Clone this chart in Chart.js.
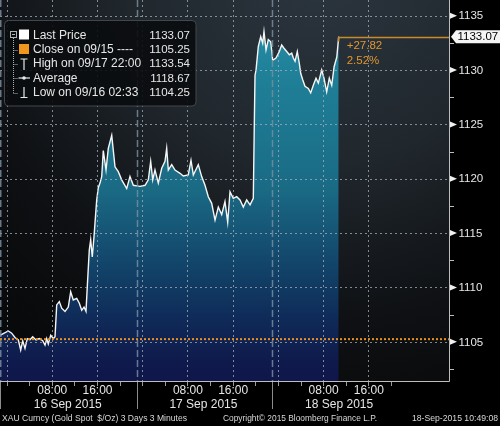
<!DOCTYPE html>
<html><head><meta charset="utf-8">
<script src="https://cdn.jsdelivr.net/npm/chart.js@4.4.0/dist/chart.umd.min.js"></script>
<style>html,body{margin:0;padding:0;background:#000;}canvas{display:block;}</style>
</head><body>
<canvas id="c" width="500" height="426"></canvas>
<script>
// hours since 16 Sep 2015 00:00
const hours = [-1.15,0.32,0.92,1.50,2.09,2.51,2.87,3.27,3.68,4.16,4.63,5.22,5.80,6.40,6.81,7.11,7.39,7.82,8.28,8.58,
8.88,9.34,9.76,10.35,10.93,11.35,11.81,12.42,12.88,13.30,13.71,14.06,14.29,14.64,14.89,15.17,15.48,15.95,16.24,16.54,
16.84,17.12,17.60,18.00,18.61,19.19,19.77,20.37,21.26,21.84,22.43,23.61,24.50,25.08,25.50,25.86,26.26,26.85,27.45,28.03,
28.33,28.62,29.22,29.80,30.69,31.27,32.15,32.63,33.04,33.92,34.52,35.11,35.69,36.29,36.88,37.46,38.06,38.64,39.12,39.53,
40.11,40.71,41.30,41.88,42.48,43.07,43.65,43.80,43.95,44.13,44.53,44.96,45.31,45.54,45.90,46.30,46.73,47.08,47.66,48.25,
48.67,49.08,49.56,50.02,50.44,50.73,51.03,51.43,51.79,52.03,52.39,52.79,53.38,53.80,54.26,54.74,55.15,55.75,56.15,56.63,
57.09,57.52,57.94,58.42,58.75];
const prices = [1105.6,1106.0,1105.8,1105.4,1105.17,1104.25,1105.1,1104.4,1105.3,1105.2,1105.47,1105.17,1105.3,1105.1,1104.7,1105.3,1104.8,1105.6,1105.3,1105.47,
1108.4,1108.7,1108.1,1107.8,1108.2,1109.6,1108.85,1109.0,1108.55,1107.9,1108.2,1107.8,1110.1,1113.45,1114.4,1112.8,1114.7,1118.05,1119.2,1119.6,
1120.2,1122.6,1120.8,1122.8,1124.0,1121.1,1120.65,1119.9,1119.1,1120.2,1119.4,1119.3,1119.4,1119.9,1121.6,1119.9,1120.8,1119.6,1120.96,1121.6,
1122.8,1120.8,1121.3,1120.8,1120.5,1120.25,1120.35,1121.7,1120.35,1121.3,1120.2,1119.4,1118.35,1117.74,1116.2,1117.4,1116.7,1117.9,1116.0,1118.8,
1118.2,1118.35,1118.05,1117.4,1118.05,1117.6,1118.2,1124.0,1129.5,1130.0,1132.15,1133.07,1132.46,1133.54,1131.85,1132.8,1132.6,1130.9,1131.1,1131.7,
1132.3,1132.0,1131.7,1131.4,1131.55,1131.1,1130.8,1131.7,1130.6,1129.7,1129.1,1128.5,1128.3,1127.9,1128.6,1129.25,1128.8,1130.0,1129.25,1128.0,
1129.25,1128.6,1130.3,1131.2,1133.07];

const yTicks = [1105,1110,1115,1120,1125,1130,1135];
const yMinorTicks = [1102.5,1107.5,1112.5,1117.5,1122.5,1127.5,1132.5];
const gridHours = [0,8,16,24,32,40,48,56,64];
const smallTickHours = [0,4,8,12,16,20,24,28,32,36,40,44,48,52,56,60,64,68];
const timeTickHours = [8,16,32,40,56,64];
const timeTickLabels = ['08:00','16:00','08:00','16:00','08:00','16:00'];
const dayLabelHours = [8,32,56];
const dayLabels = ['16 Sep 2015','17 Sep 2015','18 Sep 2015'];
const dayBreakHours = [-1.1,23,47];
const closePrice = 1105.25;
const lastPrice = 1133.07;
const changeText = ['+27.82','2.52%'];
const legendLabels = ['Last Price','Close on 09/15 ----','High on 09/17 22:00','Average','Low on 09/16 02:33'];
const legendValues = ['1133.07','1105.25','1133.54','1118.67','1104.25'];
const footerTexts = ['XAU Curncy (Gold Spot  $/Oz) 3 Days 3 Minutes','Copyright\u00A9 2015 Bloomberg Finance L.P.','18-Sep-2015 10:49:08'];

const FONT = '"Liberation Sans", Arial, sans-serif';

const bgPlugin = {
  id:'bg',
  beforeDraw(chart){
    const {ctx} = chart; const a = chart.chartArea;
    ctx.save();
    ctx.fillStyle = '#000'; ctx.fillRect(0,0,chart.width,chart.height);
    const g = ctx.createRadialGradient(320,-30,10,320,-30,470);
    g.addColorStop(0,'#2b353e'); g.addColorStop(0.4,'#20272d'); g.addColorStop(0.75,'#0e1013'); g.addColorStop(1,'#08090a');
    ctx.fillStyle = g; ctx.fillRect(a.left,a.top,a.right-a.left,a.bottom-a.top);
    ctx.restore();
  }
};

const overlayPlugin = {
  id:'overlay',
  afterDatasetsDraw(chart){
    const {ctx} = chart; const a = chart.chartArea;
    const xs = chart.scales.x, ys = chart.scales.y;
    const px = v => xs.getPixelForValue(v), py = v => ys.getPixelForValue(v);
    ctx.save();
    // horizontal grid
    ctx.lineWidth = 1; ctx.strokeStyle = 'rgba(165,175,185,0.75)'; ctx.setLineDash([2,3]);
    yTicks.forEach(v=>{ const y=Math.round(py(v))+0.5; ctx.beginPath(); ctx.moveTo(a.left,y); ctx.lineTo(a.right,y); ctx.stroke(); });
    // vertical grid
    gridHours.forEach(h=>{ const x=Math.round(px(h))+0.5; ctx.beginPath(); ctx.moveTo(x,a.top); ctx.lineTo(x,a.bottom); ctx.stroke(); });
    // day separators (in plot)
    ctx.strokeStyle = 'rgba(120,140,158,0.85)'; ctx.lineWidth = 1.5; ctx.setLineDash([7,3]);
    dayBreakHours.forEach(h=>{ const x=Math.max(0.75,Math.round(px(h))+0.5); ctx.beginPath(); ctx.moveTo(x,a.top); ctx.lineTo(x,a.bottom); ctx.stroke(); });
    // close line
    ctx.strokeStyle = '#e8901e'; ctx.lineWidth = 2; ctx.setLineDash([2,2]);
    const cy = py(closePrice);
    ctx.beginPath(); ctx.moveTo(a.left,cy); ctx.lineTo(a.right,cy); ctx.stroke();
    ctx.setLineDash([]);
    // last price annotation
    const lx = px(hours[hours.length-1]), ly = Math.round(py(lastPrice))+0.5;
    ctx.strokeStyle = '#c98a2c'; ctx.lineWidth = 1.5;
    ctx.beginPath(); ctx.moveTo(lx,ly+4); ctx.lineTo(lx,ly); ctx.lineTo(a.right,ly); ctx.stroke();
    ctx.fillStyle = '#e3962c'; ctx.font = '11.5px '+FONT; ctx.textBaseline='middle'; ctx.textAlign='left';
    ctx.fillText(changeText[0], lx+8, ly+8.5);
    ctx.fillText(changeText[1], lx+8, ly+23.5);
    // axes lines
    ctx.strokeStyle = '#bdbdbd'; ctx.lineWidth = 1;
    ctx.beginPath(); ctx.moveTo(a.right+0.5,a.top); ctx.lineTo(a.right+0.5,a.bottom+0.5); ctx.lineTo(a.left,a.bottom+0.5); ctx.stroke();
    // bottom small ticks
    ctx.strokeStyle = '#9a9a9a';
    smallTickHours.forEach(h=>{ const x=Math.round(px(h))+0.5; ctx.beginPath(); ctx.moveTo(x,a.bottom+1); ctx.lineTo(x,a.bottom+5); ctx.stroke(); });
    // day separators in axis
    ctx.strokeStyle = '#8c8c8c';
    dayBreakHours.forEach(h=>{ const x=Math.max(0.5,Math.round(px(h))+0.5); ctx.beginPath(); ctx.moveTo(x,a.bottom+1); ctx.lineTo(x,a.bottom+28); ctx.stroke(); });
    // bottom labels
    ctx.fillStyle = '#e6e6e6'; ctx.font = '12px '+FONT; ctx.textAlign='center'; ctx.textBaseline='middle';
    timeTickHours.forEach((h,i)=>ctx.fillText(timeTickLabels[i], px(h)+0.5, a.bottom+10));
    dayLabelHours.forEach((h,i)=>ctx.fillText(dayLabels[i], px(h)+16, a.bottom+24));
    // right axis ticks / labels
    ctx.strokeStyle = '#bdbdbd';
    yMinorTicks.forEach(v=>{ const y=Math.round(py(v))+0.5; ctx.beginPath(); ctx.moveTo(a.right+1,y); ctx.lineTo(a.right+5,y); ctx.stroke(); });
    ctx.fillStyle = '#f0f0f0';
    yTicks.forEach(v=>{ const y=py(v); ctx.beginPath(); ctx.moveTo(a.right+1,y-3); ctx.lineTo(a.right+8,y); ctx.lineTo(a.right+1,y+3); ctx.closePath(); ctx.fill(); });
    ctx.fillStyle = '#e6e6e6'; ctx.font = '11.5px '+FONT; ctx.textAlign='left';
    yTicks.forEach(v=>ctx.fillText(String(v), a.right+9.5, py(v)+0.5));
    // price tag
    const ty = py(lastPrice);
    ctx.fillStyle = '#f4f4f4';
    ctx.beginPath(); ctx.moveTo(a.right+2,ty); ctx.lineTo(a.right+7,ty-6.5); ctx.lineTo(500,ty-6.5); ctx.lineTo(500,ty+6.5); ctx.lineTo(a.right+7,ty+6.5); ctx.closePath(); ctx.fill();
    ctx.fillStyle = '#000'; ctx.fillText(String(lastPrice.toFixed(2)), a.right+8.5, ty+0.5);
    // legend box
    const bx=4.5, by=20.5, bw=191.5, bh=85.5, r=4;
    ctx.fillStyle = 'rgba(10,12,14,0.9)'; ctx.strokeStyle = '#42474d'; ctx.lineWidth=1;
    ctx.beginPath(); ctx.moveTo(bx+r,by); ctx.lineTo(bx+bw-r,by); ctx.arcTo(bx+bw,by,bx+bw,by+r,r); ctx.lineTo(bx+bw,by+bh-r); ctx.arcTo(bx+bw,by+bh,bx+bw-r,by+bh,r);
    ctx.lineTo(bx+r,by+bh); ctx.arcTo(bx,by+bh,bx,by+bh-r,r); ctx.lineTo(bx,by+r); ctx.arcTo(bx,by,bx+r,by,r); ctx.closePath(); ctx.fill(); ctx.stroke();
    const rowY = [35.5,49.8,64.1,78.4,92.7];
    // tree
    ctx.strokeStyle='#b0b0b0'; ctx.lineWidth=1;
    ctx.strokeRect(10.5,31.5,6,6); ctx.beginPath(); ctx.moveTo(12,34.5); ctx.lineTo(15,34.5); ctx.stroke();
    ctx.setLineDash([1,1]);
    ctx.beginPath(); ctx.moveTo(13.5,38); ctx.lineTo(13.5,rowY[4]); ctx.stroke();
    for(let i=1;i<5;i++){ ctx.beginPath(); ctx.moveTo(13.5,Math.round(rowY[i])+0.5); ctx.lineTo(18,Math.round(rowY[i])+0.5); ctx.stroke(); }
    ctx.setLineDash([]);
    ctx.fillStyle='#ffffff'; ctx.fillRect(19,29.5,10,10);
    ctx.fillStyle='#f0961e'; ctx.fillRect(19,44,10,10);
    ctx.strokeStyle='#e8e8e8'; ctx.lineWidth=1.2;
    ctx.beginPath(); ctx.moveTo(20.5,59); ctx.lineTo(27.5,59); ctx.moveTo(24,59); ctx.lineTo(24,70); ctx.stroke();
    ctx.beginPath(); ctx.moveTo(18.5,78); ctx.lineTo(30,78); ctx.stroke();
    ctx.fillStyle='#e8e8e8'; ctx.beginPath(); ctx.arc(24,78,1.8,0,Math.PI*2); ctx.fill();
    ctx.beginPath(); ctx.moveTo(24,87); ctx.lineTo(24,97.5); ctx.moveTo(20.5,97.5); ctx.lineTo(27.5,97.5); ctx.stroke();
    ctx.fillStyle='#e6e6e6'; ctx.font='12px '+FONT; ctx.textAlign='left'; ctx.textBaseline='middle';
    legendLabels.forEach((t,i)=>ctx.fillText(t,33,rowY[i]));
    ctx.font='11.5px '+FONT; ctx.textAlign='right';
    legendValues.forEach((t,i)=>ctx.fillText(t,190,rowY[i]));
    // footer
    ctx.fillStyle='#d8d8d8'; ctx.font='9px '+FONT; ctx.textBaseline='middle';
    ctx.textAlign='left'; ctx.fillText(footerTexts[0],2,419,185);
    ctx.fillText(footerTexts[1],223,419,154);
    ctx.textAlign='right'; ctx.fillText(footerTexts[2],498,419,86);
    ctx.restore();
  }
};

const ctx = document.getElementById('c').getContext('2d');
const chart = new Chart(ctx,{
  type:'line',
  data:{datasets:[{
    data: hours.map((h,i)=>({x:h,y:prices[i]})),
    borderColor:'#f6f6f6', borderWidth:1.4, pointRadius:0, tension:0, fill:'start',
    backgroundColor: c=>{ const a=c.chart.chartArea; if(!a) return 'rgba(0,0,0,0)';
      const g=c.chart.ctx.createLinearGradient(0,a.top,0,a.bottom);
      g.addColorStop(0,'#2892aa'); g.addColorStop(0.2,'#1f8098'); g.addColorStop(0.5,'#1a6a84'); g.addColorStop(0.6,'#165676');
      g.addColorStop(0.73,'#113e65'); g.addColorStop(0.84,'#0f2a58'); g.addColorStop(0.95,'#0f1a4c'); g.addColorStop(1,'#10164a'); return g; }
  }]},
  options:{
    responsive:false, animation:false,
    layout:{padding:{left:0,right:0,top:0,bottom:45}},
    plugins:{legend:{display:false},tooltip:{enabled:false}},
    scales:{
      x:{type:'linear',min:-1.15,max:78.26,display:false},
      y:{position:'right',min:1101.4,max:1136.44,grid:{display:false},border:{display:false},ticks:{display:false},
         afterFit:s=>{s.width=51;}}
    }
  },
  plugins:[bgPlugin,overlayPlugin]
});
</script>
</body></html>
